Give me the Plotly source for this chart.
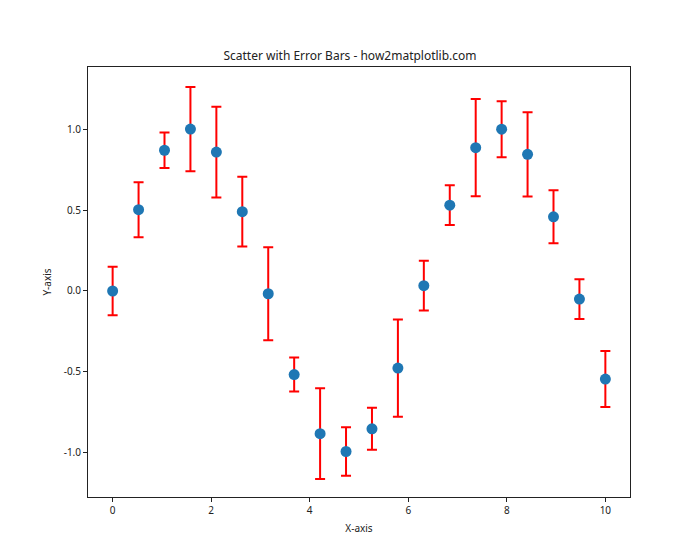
import plotly.graph_objects as go

x_vals = [0.0, 0.5263, 1.0526, 1.5789, 2.1053, 2.6316, 3.1579, 3.6842, 4.2105, 4.7368,
          5.2632, 5.7895, 6.3158, 6.8421, 7.3684, 7.8947, 8.4211, 8.9474, 9.4737, 10.0]
y_vals = [0.0, 0.502, 0.869, 1.0, 0.858, 0.490, -0.017, -0.516, -0.881, -0.991,
          -0.851, -0.476, 0.033, 0.530, 0.885, 0.999, 0.844, 0.458, -0.050, -0.544]
y_err = [0.15, 0.17, 0.11, 0.26, 0.28, 0.216, 0.287, 0.105, 0.28, 0.15,
         0.13, 0.30, 0.154, 0.123, 0.30, 0.173, 0.26, 0.164, 0.123, 0.173]

title_text = "Scatter with Error Bars - how2matplotlib.com"
x_label = "X-axis"
y_label = "Y-axis"
x_ticks = [0, 2, 4, 6, 8, 10]
y_ticks = [-1.0, -0.5, 0.0, 0.5, 1.0]

font_family = "Noto Sans, DejaVu Sans, sans-serif"

fig = go.Figure()
fig.add_trace(go.Scatter(
    x=x_vals, y=y_vals, mode="markers",
    marker=dict(size=11, color="#1f77b4"),
    error_y=dict(type="data", array=y_err, visible=True, color="#ff0000",
                 thickness=2, width=5),
    showlegend=False,
))

axis_common = dict(
    showline=True, linecolor="#222222", linewidth=1, mirror=True,
    ticks="outside", ticklen=4, tickcolor="#222222", showgrid=False,
    zeroline=False, tickfont=dict(size=10, color="#222222"),
)

fig.update_layout(
    width=700, height=560,
    margin=dict(l=88, r=70, t=67, b=63),
    paper_bgcolor="white", plot_bgcolor="white",
    font=dict(family=font_family, color="#222222"),
    title=dict(text=title_text, x=0.5, xanchor="center", y=1 - 56 / 560, yanchor="middle",
               font=dict(size=12, color="#222222")),
    xaxis=dict(range=[-0.5, 10.5], tickvals=x_ticks, ticktext=[str(t) for t in x_ticks],
               title=dict(text=x_label, font=dict(size=10), standoff=8), **axis_common),
    yaxis=dict(range=[-1.272, 1.383], tickvals=y_ticks, ticktext=[f"{t:.1f}" for t in y_ticks],
               title=dict(text=y_label, font=dict(size=10), standoff=10), **axis_common),
)

fig.write_html("out.html")
